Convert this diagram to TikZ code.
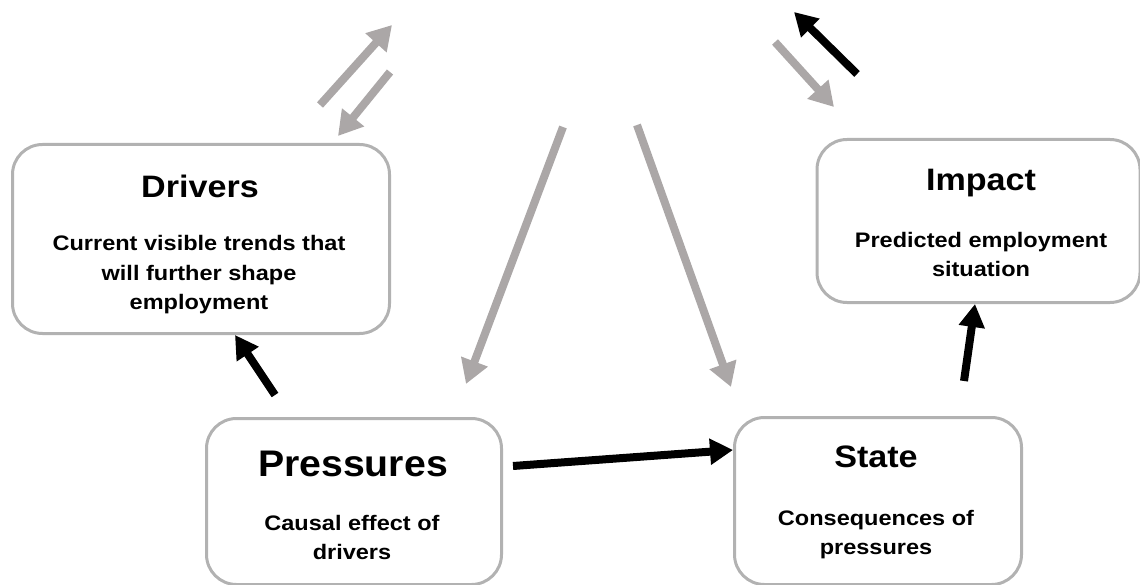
\documentclass[tikz,border=0pt]{standalone}
\usepackage{fontspec}
\setmainfont{Liberation Sans}
\newfontfamily\subfont[FakeStretch=1.12]{Liberation Sans}
\newfontfamily\ttlfont[FakeStretch=1.1]{Liberation Sans}
\newfontfamily\bigfont[FakeStretch=1.06]{Liberation Sans}
\usetikzlibrary{arrows.meta}
\definecolor{boxgray}{RGB}{178,178,178}
\definecolor{arrgray}{RGB}{171,167,167}
\begin{document}
\begin{tikzpicture}[x=1pt,y=-1pt,
  box/.style={draw=boxgray,line width=3pt,rounded corners=30pt},
  ttl/.style={anchor=base,font=\ttlfont\bfseries\fontsize{31}{33}\selectfont,inner sep=0pt},
  bigttl/.style={anchor=base,font=\bigfont\bfseries\fontsize{37}{40}\selectfont,inner sep=0pt},
  sub/.style={anchor=north,font=\subfont\bfseries\fontsize{21}{29.5}\selectfont,align=center,inner sep=0pt},
  garrow/.style={draw=arrgray,line width=8pt,-{Triangle[length=24pt,width=27pt]}},
  barrow/.style={draw=black,line width=8pt,-{Triangle[length=23pt,width=25pt]}}]
\useasboundingbox (0,0) rectangle (1140,585);
% boxes
\node[box,minimum width=377pt,minimum height=189pt,anchor=north west] (drivers) at (11,143) {};
\node[box,minimum width=323pt,minimum height=163pt,anchor=north west] (impact) at (815.5,138) {};
\node[box,minimum width=295pt,minimum height=166pt,anchor=north west] (pressures) at (205,417) {};
\node[box,minimum width=287pt,minimum height=167pt,anchor=north west] (state) at (733,416) {};
% texts
\node[ttl] (driversT) at (200,198) {Drivers};
\node[sub] (driversS) at (199,235.5) {Current visible trends that\\will further shape\\employment};
\node[ttl] (impactT) at (981,191) {Impact};
\node[sub] (impactS) at (981,232) {Predicted employment\\situation};
\node[bigttl] (pressuresT) at (353,476) {Pressures};
\node[sub] (pressuresS) at (352,515) {Causal effect of\\drivers};
\node[ttl] (stateT) at (876,467) {State};
\node[sub] (stateS) at (876,510) {Consequences of\\pressures};
% free ends
\coordinate (g1s) at (320,105); \coordinate (g1e) at (392,25);
\coordinate (g2s) at (390,72);  \coordinate (g2e) at (338,136);
\coordinate (b1s) at (857,74);  \coordinate (b1e) at (794,12);
\coordinate (g3s) at (775,42);  \coordinate (g3e) at (834,107);
\coordinate (g4s) at (563,127); \coordinate (g4e) at (466,384);
\coordinate (g5s) at (637,125); \coordinate (g5e) at (731,387);
\coordinate (pd) at (275,395);
\coordinate (ps) at (513,466);
\coordinate (si) at (964,381);
% connectors
\draw[garrow] (g1s) -- (g1e);
\draw[garrow] (g2s) -- (g2e);
\draw[barrow] (b1s) -- (b1e);
\draw[garrow] (g3s) -- (g3e);
\draw[garrow] (g4s) -- (g4e);
\draw[garrow] (g5s) -- (g5e);
\draw[barrow] (pd) -- (drivers.south west -| 235,0);
\draw[barrow] (ps) -- (state.west |- 0,450);
\draw[barrow] (si) -- (impact.south west -| 975,0);
\end{tikzpicture}
\end{document}
